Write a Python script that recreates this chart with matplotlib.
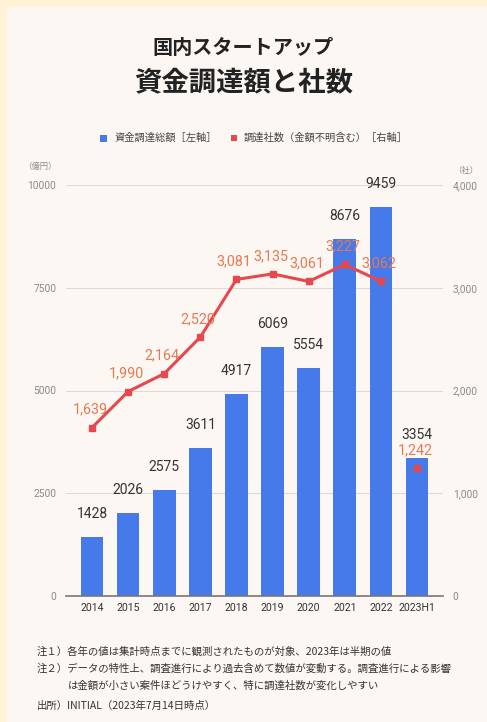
import numpy as np
import matplotlib.pyplot as plt
from matplotlib.patches import Rectangle

plt.rcParams['font.family'] = ['Noto Sans CJK JP', 'DejaVu Sans']

# data
years = ['2014', '2015', '2016', '2017', '2018', '2019', '2020', '2021', '2022', '2023H1']
amounts = [1428, 2026, 2575, 3611, 4917, 6069, 5554, 8676, 9459, 3354]
companies = [1639, 1990, 2164, 2520, 3081, 3135, 3061, 3227, 3062, 1242]
left_ticks = [0, 2500, 5000, 7500, 10000]
right_ticks = [0, 1000, 2000, 3000, 4000]

blue = '#4679EA'
red = '#E5484D'
orange = '#E9784E'
grid_c = '#DDDAD6'
tick_c = '#8A8A8A'
num_font = ['Roboto', 'DejaVu Sans']

W, H = 487, 722
fig = plt.figure(figsize=(W / 100, H / 100), dpi=100, facecolor='#FFF2D5')
fig.patches.append(Rectangle((7 / W, 0), 1, 1 - 7 / H, transform=fig.transFigure,
                             facecolor='#FCF7F3', edgecolor='none', zorder=-10))

ax = fig.add_axes([66 / W, 1 - 596 / H, (443 - 66) / W, (596 - 185) / H])
ax.set_facecolor('none')
x = np.arange(len(years))
ax.bar(x, amounts, width=0.63, color=blue, zorder=2)
ax.set_xlim(-0.72, len(years) - 0.28)
ax.set_ylim(0, 10000)
ax.set_yticks(left_ticks)
ax.set_yticklabels([str(t) for t in left_ticks], family=num_font)
ax.grid(axis='y', color=grid_c, linewidth=0.8, zorder=0)
ax.set_axisbelow(True)
for s in ['top', 'left', 'right']:
    ax.spines[s].set_visible(False)
ax.spines['bottom'].set_color('#777777')
ax.spines['bottom'].set_linewidth(1.2)
ax.tick_params(axis='y', length=0, pad=7, labelsize=7.3, labelcolor=tick_c)
ax.tick_params(axis='x', length=0, pad=5, labelsize=7.6, labelcolor='#333333')
ax.set_xticks(x)
ax.set_xticklabels(years, family=num_font)
for xi, v in zip(x, amounts):
    ax.annotate(str(v), (xi, v), xytext=(0, 16.5), textcoords='offset points',
                ha='center', va='center', fontsize=10, color='#333333', family=num_font)

ax2 = ax.twinx()
ax2.set_ylim(0, 4000)
ax2.set_yticks(right_ticks)
ax2.set_yticklabels([f'{t:,}' for t in right_ticks], family=num_font)
for s in ax2.spines.values():
    s.set_visible(False)
ax2.tick_params(axis='y', length=0, pad=7, labelsize=7.3, labelcolor=tick_c)
ax2.plot(x[:-1], companies[:-1], color=red, linewidth=2.2, marker='s',
         markersize=4, zorder=3)
ax2.plot(x[-1:], companies[-1:], color=red, linestyle='none', marker='s',
         markersize=4, zorder=3)
for xi, v in zip(x, companies):
    ax2.annotate(f'{v:,}', (xi, v), xytext=(-1.5, 13), textcoords='offset points',
                 ha='center', va='center', fontsize=10.3, color=orange, family=num_font)

fig.text(66 / W - 0.02, 1 - 166 / H, '（億円）', fontsize=6, color=tick_c, ha='right', va='center')
fig.text(443 / W + 0.02, 1 - 170 / H, '（社）', fontsize=6, color=tick_c, ha='left', va='center')

# titles
fig.text(0.5, 1 - 47 / H, '国内スタートアップ', fontsize=14.5, fontweight='bold',
         color='#222222', ha='center', va='center')
fig.text(0.5, 1 - 82 / H, '資金調達額と社数', fontsize=19.7, fontweight='bold',
         color='#222222', ha='center', va='center')

# legend
ly = 1 - 138 / H
fig.patches.append(Rectangle((100 / W, ly - 3.5 / H), 7 / W, 7 / H, transform=fig.transFigure,
                             facecolor=blue, edgecolor='none'))
fig.text(115 / W, ly, '資金調達総額［左軸］', fontsize=7.4, color='#444444', va='center')
fig.patches.append(Rectangle((231 / W, ly - 3 / H), 6 / W, 6 / H, transform=fig.transFigure,
                             facecolor=red, edgecolor='none'))
fig.text(244 / W, ly, '調達社数（金額不明含む）［右軸］', fontsize=7.4, color='#444444', va='center')

# notes
notes = [
    (37, 652, '注１）各年の値は集計時点までに観測されたものが対象、2023年は半期の値'),
    (37, 669, '注２）データの特性上、調査進行により過去含めて数値が変動する。調査進行による影響'),
    (68, 686, 'は金額が小さい案件ほどうけやすく、特に調達社数が変化しやすい'),
    (37, 706, '出所）INITIAL（2023年7月14日時点）'),
]
for nx, ny, t in notes:
    fig.text(nx / W, 1 - ny / H, t, fontsize=7.5, color='#333333', va='center')

fig.savefig('out.png', dpi=100, facecolor=fig.get_facecolor())
